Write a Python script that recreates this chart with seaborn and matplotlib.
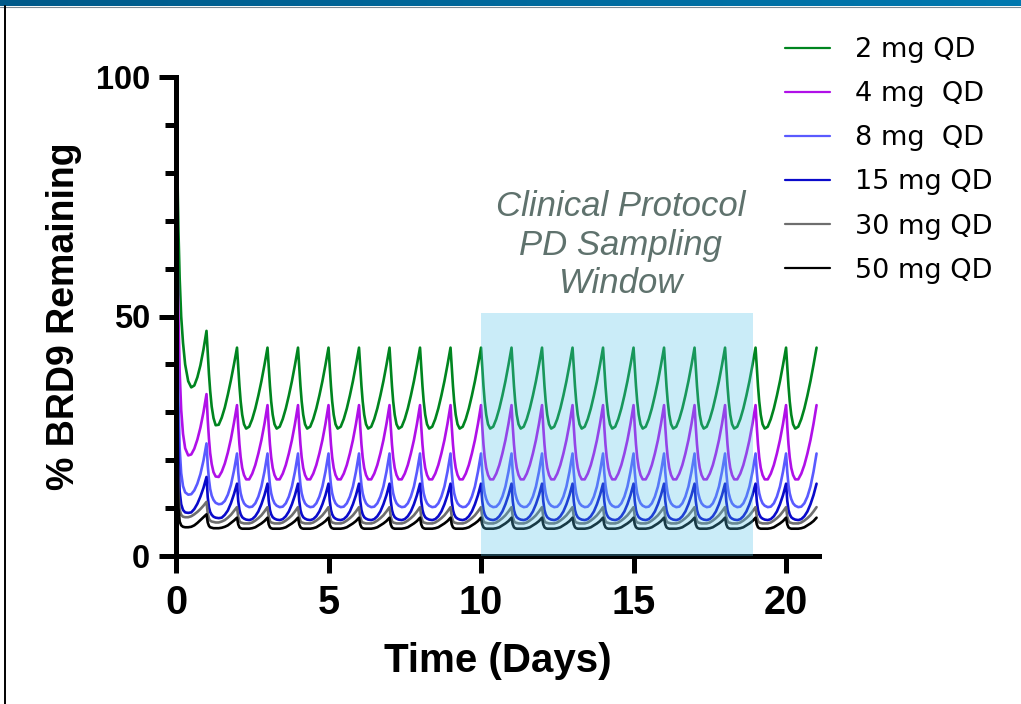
import numpy as np
import pandas as pd
import matplotlib
matplotlib.use("Agg")
import matplotlib.pyplot as plt
from matplotlib.lines import Line2D
from matplotlib.colors import LinearSegmentedColormap
import seaborn as sns

# ---------------- data ----------------
doses = ["2 mg QD", "4 mg  QD", "8 mg  QD", "15 mg QD", "30 mg QD", "50 mg QD"]
colors = ["#00851F", "#B010E8", "#5A5AFF", "#0A0ACB", "#6E6E6E", "#000000"]

n_days = 21
# fractions of a day at which each profile was read
frac_day1 = [0, 0.01, 0.02, 0.04, 0.06, 0.08, 0.12, 0.17, 0.23, 0.3, 0.4, 0.5, 0.6, 0.7, 0.8, 0.9, 1.0]
frac_cycle = [0, 0.04, 0.08, 0.12, 0.17, 0.23, 0.3, 0.4, 0.5, 0.6, 0.7, 0.8, 0.9, 1.0]

# 2 mg QD
d2_day1 = [100, 95, 90, 82, 75, 68, 58, 50, 44.5, 40, 36.5, 35.2, 35.6, 37.3, 39.8, 43.1, 47]
d2_day2 = [47, 42.5, 38, 34.5, 31.2, 28.8, 27.3, 27.4, 28.9, 31, 33.7, 36.7, 40, 43.5]
d2_steady = [43.5, 39.5, 35.5, 32.3, 29.5, 27.5, 26.6, 27.0, 28.6, 30.8, 33.5, 36.5, 39.9, 43.5]
# 4 mg QD
d4_day1 = [100, 90, 82, 68, 58, 50, 38.5, 30.5, 25.5, 22.5, 21.0, 21.2, 22.4, 24.3, 26.8, 30.0, 33.8]
d4_day2 = [33.8, 28.5, 24.5, 21.5, 19.2, 17.5, 16.6, 16.5, 17.6, 19.3, 21.6, 24.4, 27.8, 31.5]
d4_steady = [31.5, 27.0, 23.3, 20.6, 18.4, 16.9, 16.0, 16.0, 17.2, 19.0, 21.4, 24.2, 27.6, 31.5]
# 8 mg QD
d8_day1 = [100, 85, 73, 55, 42, 33, 22.5, 17.3, 14.6, 13.3, 12.8, 12.9, 13.7, 15.1, 17.1, 19.9, 23.5]
d8_day2 = [23.5, 19.0, 16.0, 14.0, 12.6, 11.7, 11.1, 10.8, 10.9, 11.5, 12.8, 14.8, 17.8, 21.4]
d8_steady = [21.4, 17.5, 14.8, 13.1, 11.9, 11.0, 10.5, 10.2, 10.3, 11.0, 12.4, 14.5, 17.6, 21.4]
# 15 mg QD
d15_day1 = [100, 80, 64, 42, 29, 21, 13.5, 10.8, 9.6, 9.1, 9.0, 9.1, 9.8, 10.9, 12.4, 14.2, 16.5]
d15_day2 = [16.5, 12.3, 10.2, 9.2, 8.6, 8.2, 8.0, 7.9, 8.0, 8.6, 9.5, 11.0, 12.9, 15.1]
d15_steady = [15.1, 11.5, 9.6, 8.7, 8.1, 7.8, 7.6, 7.5, 7.7, 8.3, 9.3, 10.8, 12.7, 15.1]
# 30 mg QD
d30_day1 = [100, 76, 57, 32, 19, 13, 9.6, 8.6, 8.2, 8.1, 8.1, 8.3, 8.7, 9.2, 9.8, 10.5, 11.3]
d30_day2 = [11.3, 8.9, 7.8, 7.4, 7.2, 7.1, 7.0, 7.0, 7.2, 7.5, 8.0, 8.6, 9.4, 10.2]
d30_steady = [10.2, 8.2, 7.3, 7.0, 6.9, 6.8, 6.8, 6.8, 7.0, 7.4, 7.9, 8.5, 9.3, 10.2]
# 50 mg QD
d50_day1 = [100, 72, 52, 27, 15, 10, 7.2, 6.4, 6.1, 6.0, 6.0, 6.1, 6.4, 6.9, 7.5, 8.1, 8.7]
d50_day2 = [8.7, 7.0, 6.3, 6.0, 5.9, 5.8, 5.8, 5.8, 5.9, 6.1, 6.4, 6.9, 7.4, 8.0]
d50_steady = [8.0, 6.6, 6.0, 5.8, 5.7, 5.7, 5.7, 5.7, 5.8, 6.0, 6.4, 6.8, 7.3, 8.0]

profiles = [
    (d2_day1, d2_day2, d2_steady),
    (d4_day1, d4_day2, d4_steady),
    (d8_day1, d8_day2, d8_steady),
    (d15_day1, d15_day2, d15_steady),
    (d30_day1, d30_day2, d30_steady),
    (d50_day1, d50_day2, d50_steady),
]

y_ticks = [0, 50, 100]
x_ticks = [0, 5, 10, 15, 20]
window_start, window_end, window_top = 10, 18.9, 50.7
window_text = "Clinical Protocol\nPD Sampling\nWindow"

# ---------------- assemble long table ----------------
rows = []
for dose, (p1, p2, ps) in zip(doses, profiles):
    t = list(frac_day1)
    v = list(p1)
    t += [1 + f for f in frac_cycle[1:]]
    v += p2[1:]
    for d in range(2, n_days):
        t += [d + f for f in frac_cycle[1:]]
        v += ps[1:]
    rows.append(pd.DataFrame({"Time": t, "BRD9": v, "Dose": dose}))
df = pd.concat(rows, ignore_index=True)

# ---------------- figure ----------------
sns.set_style("ticks")
plt.rcParams["font.family"] = ["Liberation Sans", "DejaVu Sans"]
plt.rcParams.update({"text.color": "black", "axes.labelcolor": "black",
                     "xtick.color": "black", "ytick.color": "black"})

W, H = 1021, 704
fig = plt.figure(figsize=(W / 100, H / 100), dpi=100)
ax = fig.add_axes([176 / W, 1 - 556 / H, (819 - 176) / W, (556 - 77) / H])

sns.lineplot(data=df, x="Time", y="BRD9", hue="Dose", hue_order=doses,
             palette=colors, linewidth=1.9, ax=ax, legend=False, sort=False,
             estimator=None)

# translucent sampling window drawn over the curves
ax.axvspan(window_start, window_end, ymin=0, ymax=window_top / 100,
           facecolor="#52C3E9", alpha=0.3, edgecolor="none", zorder=3)
ax.text(14.57, 64.9, window_text, ha="center", va="center",
        fontsize=25, style="italic", color="#5f726d", linespacing=1.22,
        family=["Liberation Sans", "DejaVu Sans"])

ax.set_xlim(0, 21.08)
ax.set_ylim(0, 100)
ax.set_xticks(x_ticks)
ax.set_yticks(y_ticks)
ax.set_yticks([v for v in range(10, 100, 10) if v != 50], minor=True)
ax.tick_params(axis="both", which="major", length=12.5, width=3.6, color="black")
ax.tick_params(axis="y", which="minor", length=8, width=3.6, color="black")
ax.tick_params(axis="y", which="major", labelsize=23.5, pad=6, labelcolor="black")
ax.tick_params(axis="x", which="major", labelsize=28.5, pad=8, labelcolor="black")
for lab in ax.get_xticklabels() + ax.get_yticklabels():
    lab.set_fontweight("bold")

for s in ["top", "right"]:
    ax.spines[s].set_visible(False)
for s in ["left", "bottom"]:
    ax.spines[s].set_linewidth(3.6)
    ax.spines[s].set_color("black")

ax.set_xlabel("Time (Days)", fontsize=29, fontweight="bold", labelpad=14, color="black")
ax.set_ylabel("% BRD9 Remaining", fontsize=27, fontweight="bold", labelpad=10, color="black")

handles = [Line2D([0], [0], color=c, lw=1.6) for c in colors]
fig.legend(handles, doses, loc="upper left", bbox_to_anchor=(785 / W, 1 - 37 / H),
           frameon=False, handlelength=1.66, handletextpad=0.92,
           labelspacing=0.67, borderpad=0, borderaxespad=0, labelcolor="black",
           prop={"family": ["DejaVu Sans"], "size": 19.5})

# top banner with gradient and left border line
bar = fig.add_axes([0, 1 - 6 / H, 1, 6 / H])
cmap = LinearSegmentedColormap.from_list("bar", ["#005A8A", "#0079B0"])
bar.imshow(np.linspace(0, 1, 256)[None, :], aspect="auto", cmap=cmap)
bar.set_axis_off()
fig.add_artist(Line2D([0, 1], [1 - 6.5 / H] * 2, color="#7f8c94", lw=0.8))
fig.add_artist(Line2D([5 / W, 5 / W], [0, 1 - 6 / H], color="black", lw=1.4))

fig.savefig("out.png", dpi=100)
